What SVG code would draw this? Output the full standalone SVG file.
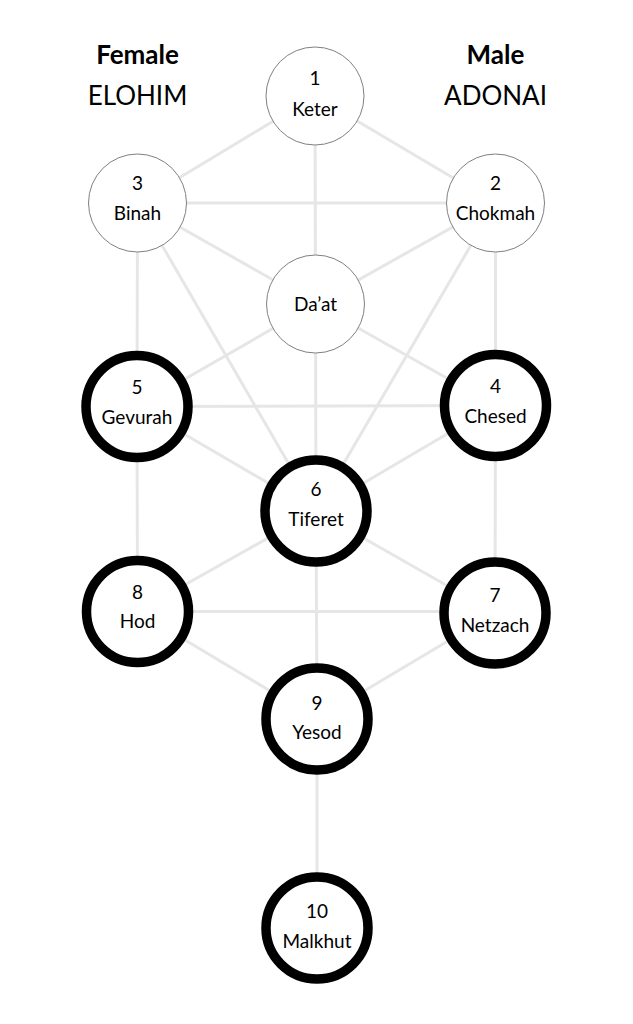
<svg xmlns="http://www.w3.org/2000/svg" width="633" height="1024" viewBox="0 0 633 1024">
<style>
.bg{fill:#ffffff}
.c line{stroke:#e6e6e6;stroke-width:3;stroke-linecap:round}
.thin{fill:#ffffff;stroke:#808080;stroke-width:1}
.thick{fill:#ffffff;stroke:#000000;stroke-width:9.5}
.t{font-family:Lato,"Open Sans","Liberation Sans",sans-serif;font-size:19px;fill:#000000;text-anchor:middle}
.h{font-family:Lato,"Open Sans","Liberation Sans",sans-serif;font-size:26px;fill:#000000;text-anchor:middle}
.hb{font-weight:bold}
.hl{font-weight:normal}
</style>
<rect class="bg" x="0" y="0" width="633" height="1024"/>
<g id="headers">
<text class="h hb" x="137.5" y="64">Female</text>
<text class="h hl" x="137.5" y="105">ELOHIM</text>
<text class="h hb" x="495.5" y="64">Male</text>
<text class="h hl" x="495.5" y="105">ADONAI</text>
</g>
<g id="connectors" class="c">
<line x1="315" y1="96" x2="137.5" y2="203"/>
<line x1="315" y1="96" x2="495.5" y2="203"/>
<line x1="315" y1="96" x2="316" y2="511"/>
<line x1="137.5" y1="203" x2="495.5" y2="203"/>
<line x1="137.5" y1="203" x2="315.5" y2="304"/>
<line x1="495.5" y1="203" x2="315.5" y2="304"/>
<line x1="137.5" y1="203" x2="137" y2="406.5"/>
<line x1="495.5" y1="203" x2="495.5" y2="405.5"/>
<line x1="137.5" y1="203" x2="316" y2="511"/>
<line x1="495.5" y1="203" x2="316" y2="511"/>
<line x1="315.5" y1="304" x2="137" y2="406.5"/>
<line x1="315.5" y1="304" x2="495.5" y2="405.5"/>
<line x1="137" y1="406.5" x2="495.5" y2="405.5"/>
<line x1="137" y1="406.5" x2="316" y2="511"/>
<line x1="495.5" y1="405.5" x2="316" y2="511"/>
<line x1="137" y1="406.5" x2="137.5" y2="611.5"/>
<line x1="495.5" y1="405.5" x2="495" y2="613"/>
<line x1="316" y1="511" x2="137.5" y2="611.5"/>
<line x1="316" y1="511" x2="495" y2="613"/>
<line x1="137.5" y1="611.5" x2="495" y2="611.5"/>
<line x1="316" y1="511" x2="317" y2="719"/>
<line x1="137.5" y1="611.5" x2="317" y2="719"/>
<line x1="495" y1="613" x2="317" y2="719"/>
<line x1="317" y1="719" x2="317" y2="928"/>
</g>
<g id="keter">
<circle class="thin" cx="315" cy="96" r="49"/>
<text class="t" x="315" y="85">1</text>
<text class="t" x="315" y="116">Keter</text>
</g>
<g id="binah">
<circle class="thin" cx="137.5" cy="203" r="49"/>
<text class="t" x="137.5" y="190">3</text>
<text class="t" x="137.5" y="220">Binah</text>
</g>
<g id="chokmah">
<circle class="thin" cx="495.5" cy="203" r="49"/>
<text class="t" x="495.5" y="190">2</text>
<text class="t" x="495.5" y="220">Chokmah</text>
</g>
<g id="daat">
<circle class="thin" cx="315.5" cy="304" r="49"/>
<text class="t" x="315.5" y="311">Da’at</text>
</g>
<g id="gevurah">
<circle class="thick" cx="137" cy="406.5" r="51"/>
<text class="t" x="137" y="394">5</text>
<text class="t" x="137" y="424">Gevurah</text>
</g>
<g id="chesed">
<circle class="thick" cx="495.5" cy="405.5" r="51"/>
<text class="t" x="495.5" y="393">4</text>
<text class="t" x="495.5" y="423">Chesed</text>
</g>
<g id="tiferet">
<circle class="thick" cx="316" cy="511" r="51"/>
<text class="t" x="316" y="496">6</text>
<text class="t" x="316" y="526">Tiferet</text>
</g>
<g id="hod">
<circle class="thick" cx="137.5" cy="611.5" r="51"/>
<text class="t" x="137.5" y="599">8</text>
<text class="t" x="137.5" y="628">Hod</text>
</g>
<g id="netzach">
<circle class="thick" cx="495" cy="613" r="51"/>
<text class="t" x="495" y="602">7</text>
<text class="t" x="495" y="632">Netzach</text>
</g>
<g id="yesod">
<circle class="thick" cx="317" cy="719" r="51"/>
<text class="t" x="317" y="710">9</text>
<text class="t" x="317" y="739">Yesod</text>
</g>
<g id="malkhut">
<circle class="thick" cx="317" cy="928" r="51"/>
<text class="t" x="317" y="918">10</text>
<text class="t" x="317" y="948">Malkhut</text>
</g>
</svg>
